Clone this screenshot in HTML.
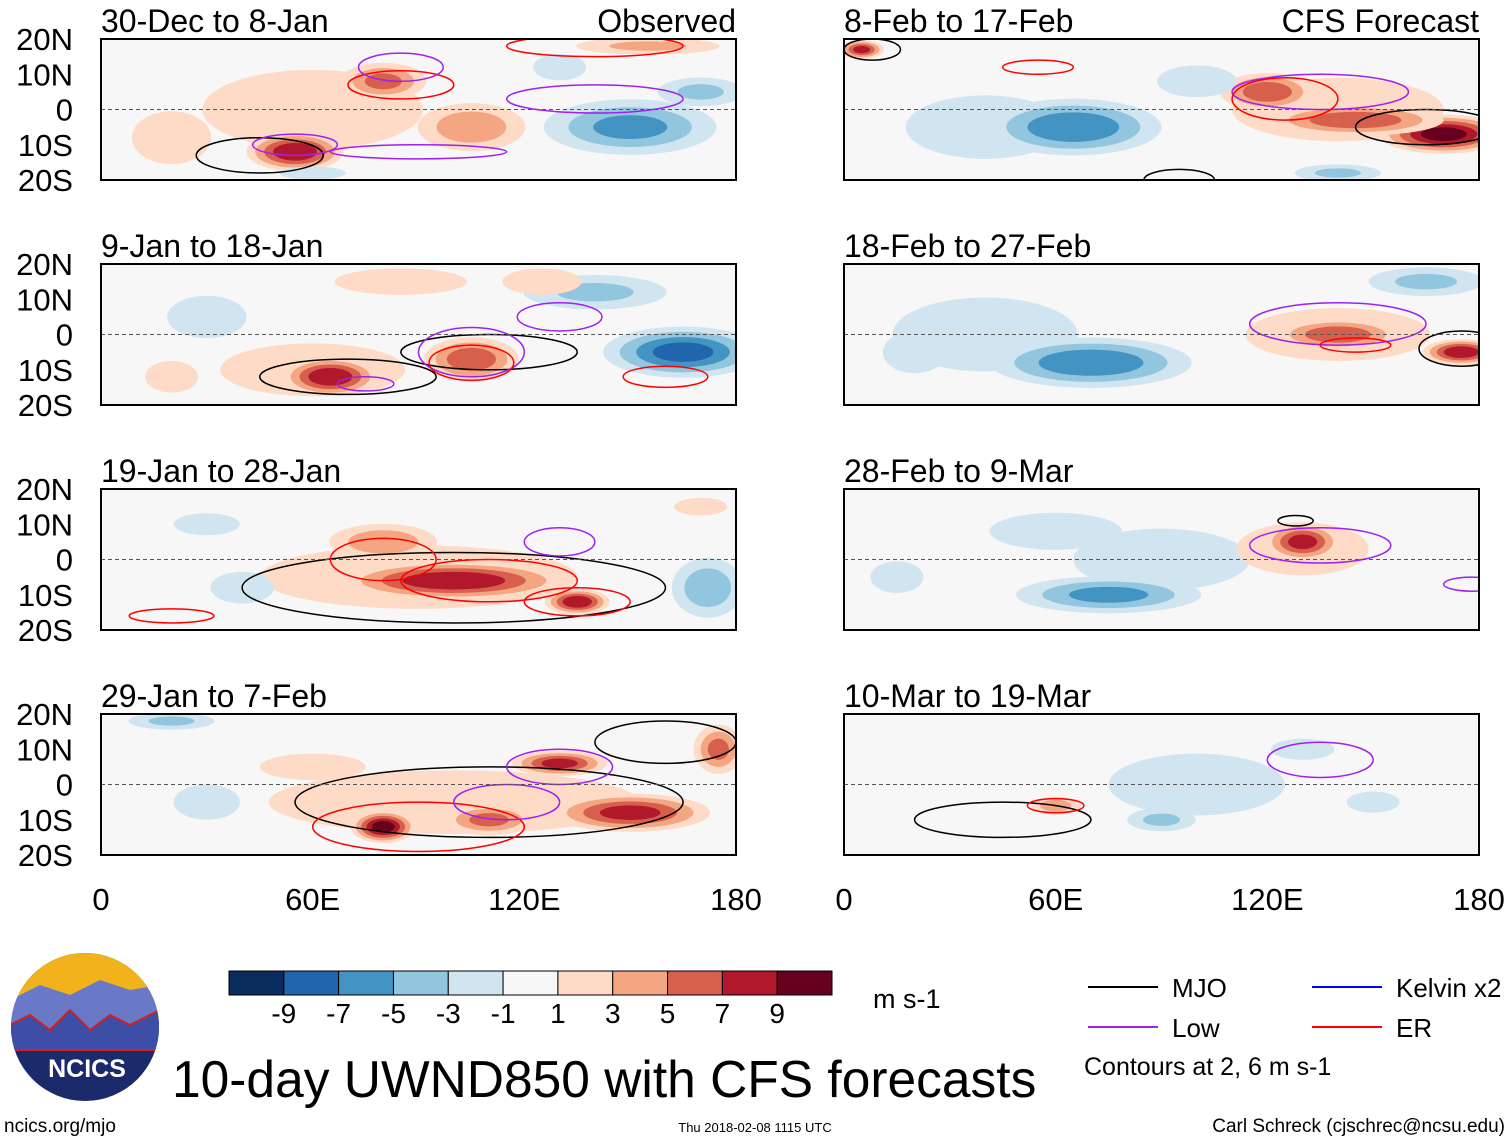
<!DOCTYPE html>
<html><head><meta charset="utf-8">
<style>
body{margin:0;background:#fff;}
svg{display:block;font-family:"Liberation Sans",sans-serif;}
</style></head>
<body>
<svg id="chart" width="1510" height="1142" viewBox="0 0 1510 1142">
</svg>
<script>
// ---- data ----
const panelTitles = ["30-Dec to 8-Jan","9-Jan to 18-Jan","19-Jan to 28-Jan","29-Jan to 7-Feb","8-Feb to 17-Feb","18-Feb to 27-Feb","28-Feb to 9-Mar","10-Mar to 19-Mar"];
const latTicks = ["20N","10N","0","10S","20S"];
const latTickValues = [20,10,0,-10,-20];
const lonTicks = ["0","60E","120E","180"];
const lonTickValues = [0,60,120,180];
const levels = [-9,-7,-5,-3,-1,1,3,5,7,9];
const levelColors = ["#0b2d5e","#2166ac","#4393c3","#92c5de","#d1e5f0","#f7f7f7","#fddbc7","#f4a582","#d6604d","#b2182b","#67001f"];
// anomaly blobs per panel: [lon, lat, value, rxDeg, ryDeg]
const blobs = [
 [[60,0,2,50,18],[20,-8,3,15,10],[55,-12,9,15,6],[80,8,6,14,6],[105,-5,5,18,8],[150,-5,-6,28,9],[170,5,-4,15,5],[155,18,4,25,3],[130,12,-3,10,5],[60,-18,-2,15,3]],
 [[60,-10,3,35,10],[65,-12,9,15,6],[105,-7,7,15,7],[165,-5,-8,25,8],[140,12,-4,25,6],[85,15,3,25,5],[30,5,-3,15,8],[125,15,3,15,5],[20,-12,3,10,6]],
 [[90,-5,3,60,12],[100,-6,9,35,6],[135,-12,9,10,4],[80,5,5,18,6],[172,-8,-5,12,10],[170,15,2,12,4],[40,-8,-3,12,6],[30,10,-2,15,5]],
 [[100,-5,3,70,12],[80,-12,10,10,5],[130,6,8,15,4],[150,-8,8,25,6],[110,-10,6,15,5],[20,18,-4,15,3],[175,10,6,8,8],[60,5,3,20,5],[30,-5,-2,15,8]],
 [[40,-5,-3,30,12],[140,0,3,40,12],[65,-5,-7,28,9],[120,5,7,15,6],[170,-7,10,20,6],[145,-3,7,28,5],[140,-18,-4,15,3],[100,8,-3,15,6],[5,17,8,7,3]],
 [[40,0,-3,35,14],[140,0,3,35,10],[70,-8,-7,32,8],[140,0,7,20,5],[175,-5,9,12,4],[165,15,-4,20,5],[20,-5,-3,12,8]],
 [[90,0,-2,40,14],[130,3,3,25,10],[130,5,8,12,6],[75,-10,-6,30,6],[60,8,-3,25,7],[15,-5,-3,10,6]],
 [[100,0,-2,40,14],[60,-6,5,8,3],[90,-10,-4,12,4],[130,10,-3,12,4],[150,-5,-3,10,4]]
];
// contour outlines per panel: [lon, lat, rxDeg, ryDeg, kind]
const contours = [
 [[45,-13,18,5,"mjo"],[55,-10,12,3,"low"],[140,3,25,4,"low"],[90,-12,25,2,"low"],[85,7,15,4,"er"],[140,18,25,3,"er"],[85,12,12,4,"low"]],
 [[70,-12,25,5,"mjo"],[110,-5,25,5,"mjo"],[105,-5,15,7,"low"],[105,-8,12,5,"er"],[160,-12,12,3,"er"],[75,-14,8,2,"low"],[130,5,12,4,"low"]],
 [[100,-8,60,10,"mjo"],[80,0,15,6,"er"],[110,-6,25,6,"er"],[135,-12,15,4,"er"],[130,5,10,4,"low"],[20,-16,12,2,"er"]],
 [[110,-5,55,10,"mjo"],[90,-12,30,7,"er"],[130,5,15,5,"low"],[115,-5,15,5,"low"],[160,12,20,6,"mjo"]],
 [[8,17,8,3,"mjo"],[135,5,25,5,"low"],[165,-5,20,5,"mjo"],[125,3,15,6,"er"],[55,12,10,2,"er"],[95,-20,10,3,"mjo"]],
 [[140,3,25,6,"low"],[175,-4,12,5,"mjo"],[145,-3,10,2,"er"]],
 [[135,4,20,5,"low"],[128,11,5,1.5,"mjo"],[178,-7,8,2,"low"]],
 [[45,-10,25,5,"mjo"],[60,-6,8,2,"er"],[135,7,15,5,"low"]]
];
const legendNames = ["MJO","Low","Kelvin x2","ER"];
// ---- drawing ----
const NS="http://www.w3.org/2000/svg";
const svg=document.getElementById("chart");
function mk(tag,attrs,parent){const e=document.createElementNS(NS,tag);for(const k in attrs)e.setAttribute(k,attrs[k]);(parent||svg).appendChild(e);return e;}
const PW=635,PH=141;
const origins=[[101,39],[101,264],[101,489],[101,714],[844,39],[844,264],[844,489],[844,714]];
function xs(o,lon){return o[0]+lon/180*PW;}
function ys(o,lat){return o[1]+(20-lat)/40*PH;}
function colorFor(v){let i=0;while(i<levels.length&&v>levels[i])i++;return levelColors[i];}
const kindColor={mjo:"#000",low:"#a020f0",er:"#f00",kelvin:"#00f"};
const defs=mk("defs",{});
origins.forEach((o,p)=>{
  const cp=mk("clipPath",{id:"clip"+p},defs);
  mk("rect",{x:o[0],y:o[1],width:PW,height:PH},cp);
  const g=mk("g",{"clip-path":"url(#clip"+p+")"});
  
  
  mk("rect",{x:o[0],y:o[1],width:PW,height:PH,fill:"#f7f7f7"},g);
  blobs[p].forEach(b=>{
    const [lon,lat,v,rx,ry]=b;
    const thr=v>0?[1,3,5,7,9]:[-1,-3,-5,-7,-9];
    thr.forEach(t=>{
      if(Math.abs(t)>=Math.abs(v))return;
      const f=1-Math.abs(t)/Math.abs(v)*0.75;
      const e=mk("ellipse",{cx:xs(o,lon),cy:ys(o,lat),rx:rx*f/180*PW,ry:ry*f/40*PH,fill:colorFor(t+(v>0?0.5:-0.5))},g);
      
      
    });
  });
  contours[p].forEach(c=>{
    const e=mk("ellipse",{cx:xs(o,c[0]),cy:ys(o,c[1]),rx:c[2]/180*PW,ry:c[3]/40*PH,fill:"none",stroke:kindColor[c[4]],"stroke-width":1.5},g);
    
    
  });
  mk("line",{x1:o[0],x2:o[0]+PW,y1:ys(o,0),y2:ys(o,0),stroke:"#555","stroke-dasharray":"4,3","stroke-width":1},g);
  const fr=mk("rect",{x:o[0],y:o[1],width:PW,height:PH,fill:"none",stroke:"#000","stroke-width":2});
  
  
  const t=mk("text",{x:o[0],y:o[1]-7,"font-size":32,fill:"#000"});
  t.textContent=panelTitles[p];
  
  
  if(p<4){
    latTicks.forEach((l,i)=>{
      const tt=mk("text",{x:73,y:ys(o,latTickValues[i])+11,"font-size":31,"text-anchor":"end"});
      tt.textContent=l;
      
      
    });
  }
});
let a=mk("text",{x:736,y:32,"font-size":32,"text-anchor":"end"});a.textContent="Observed";


a=mk("text",{x:1479,y:32,"font-size":32,"text-anchor":"end"});a.textContent="CFS Forecast";


[101,844].forEach(x0=>{
  lonTicks.forEach((l,i)=>{
    const t=mk("text",{x:x0+lonTickValues[i]/180*PW,y:910,"font-size":31,"text-anchor":"middle"});
    t.textContent=l;
    
    
  });
});
// colorbar
const cbX=229,cbW=603,cbY=971,cbH=24,n=levelColors.length;
levelColors.forEach((c,i)=>{
  const r=mk("rect",{x:cbX+i*cbW/n,y:cbY,width:cbW/n,height:cbH,fill:c,stroke:"#000","stroke-width":1});
  
  
});
levels.forEach((l,i)=>{
  const t=mk("text",{x:cbX+(i+1)*cbW/n,y:1023,"font-size":28,"text-anchor":"middle"});
  t.textContent=l;
  
  
});
a=mk("text",{x:873,y:1008,"font-size":27});a.textContent="m s-1";


// legend
const leg=[[1088,987,"mjo",0],[1088,1027,"low",1],[1312,987,"kelvin",2],[1312,1027,"er",3]];
leg.forEach(L=>{
  mk("line",{x1:L[0],x2:L[0]+70,y1:L[1],y2:L[1],stroke:kindColor[L[2]],"stroke-width":2});
  const t=mk("text",{x:L[0]+84,y:L[1]+10,"font-size":26});
  t.textContent=legendNames[L[3]];
  
  
});
a=mk("text",{x:1084,y:1075,"font-size":25});a.textContent="Contours at 2, 6 m s-1";


a=mk("text",{x:172,y:1097,"font-size":51.5});a.textContent="10-day UWND850 with CFS forecasts";


a=mk("text",{x:4,y:1132,"font-size":19});a.textContent="ncics.org/mjo";


a=mk("text",{x:755,y:1132,"font-size":13,"text-anchor":"middle"});a.textContent="Thu 2018-02-08 1115 UTC";


a=mk("text",{x:1505,y:1132,"font-size":19,"text-anchor":"end"});a.textContent="Carl Schreck (cjschrec@ncsu.edu)";


// logo
const lg=mk("g",{});


const lc=mk("clipPath",{id:"logoclip"},defs);mk("circle",{cx:85,cy:1027,r:74},lc);
const lgi=mk("g",{"clip-path":"url(#logoclip)"},lg);
mk("rect",{x:0,y:950,width:170,height:160,fill:"#1b2a6b"},lgi);
mk("rect",{x:0,y:950,width:170,height:50,fill:"#f2b21c"},lgi);
mk("path",{d:"M10 1000 L40 985 L70 995 L100 980 L130 990 L160 985 L160 1040 L10 1040Z",fill:"#6a78c8"},lgi);
mk("path",{d:"M10 1025 L30 1015 L50 1030 L70 1010 L90 1030 L110 1015 L130 1025 L160 1010 L160 1050 L10 1050Z",fill:"#3d4ea6",stroke:"#d02020","stroke-width":2},lgi);
a=mk("text",{x:87,y:1077,"font-size":25,"font-weight":"bold",fill:"#fff","text-anchor":"middle"},lg);a.textContent="NCICS";


</script>
</body></html>
